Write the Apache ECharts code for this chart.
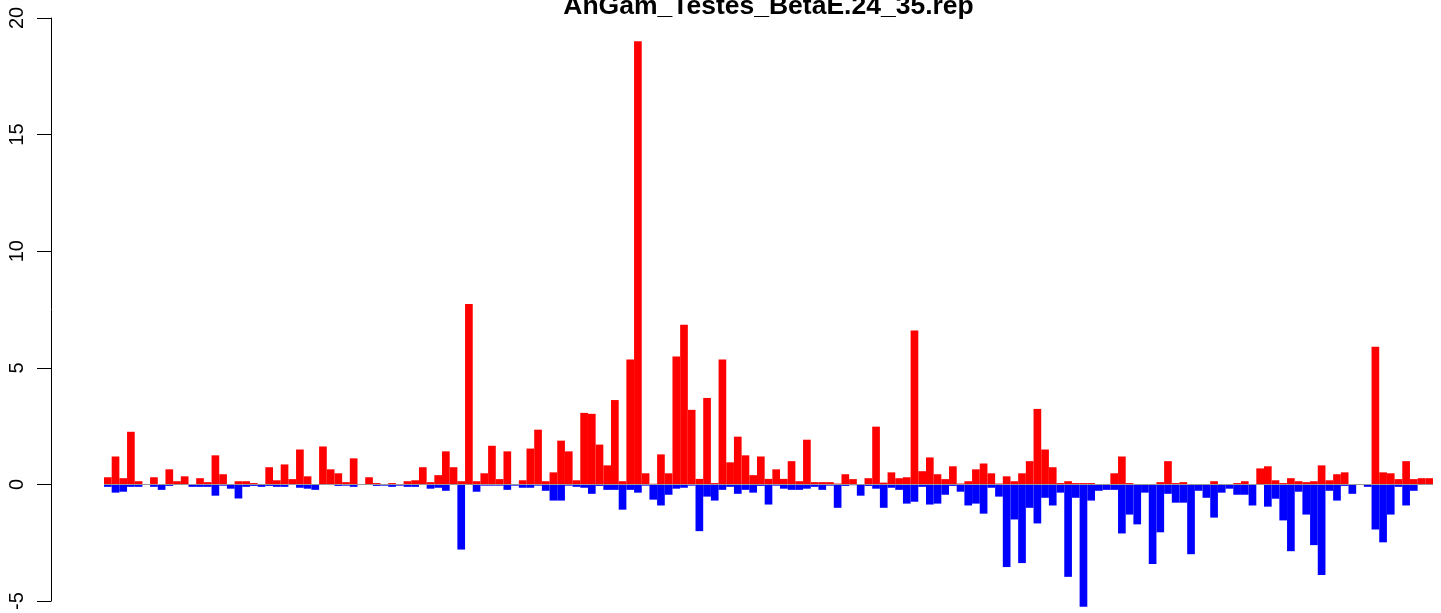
<!DOCTYPE html>
<html>
<head>
<meta charset="utf-8">
<script src="https://cdn.jsdelivr.net/npm/echarts@6/dist/echarts.min.js"></script>
<style>
  html, body { margin: 0; padding: 0; background: #fff; }
  #chart { width: 1441px; height: 613px; }
</style>
</head>
<body>
<div id="chart"></div>
<script>
var chartTitle = 'AnGam_Testes_BetaE.24_35.rep';

// positive part of each bar (red)
var redValues = [
    0.31, 1.2, 0.27, 2.26, 0.14, 0, 0.31, 0.02, 0.65, 0.14,
    0.35, 0.02, 0.27, 0.1, 1.25, 0.44, 0.02, 0.14, 0.14, 0.06,
    0.02, 0.74, 0.18, 0.86, 0.23, 1.5, 0.35, 0.02, 1.63, 0.65,
    0.48, 0.1, 1.12, 0, 0.31, 0.06, 0.02, 0.06, 0.02, 0.14,
    0.18, 0.74, 0.1, 0.4, 1.42, 0.74, 0.14, 7.74, 0.14, 0.48,
    1.66, 0.23, 1.42, 0, 0.18, 1.54, 2.35, 0.14, 0.52, 1.88,
    1.42, 0.18, 3.07, 3.03, 1.71, 0.82, 3.62, 0.14, 5.36, 19.0,
    0.48, 0.03, 1.29, 0.48, 5.49, 6.85, 3.2, 0.24, 3.71, 0.06,
    5.36, 0.95, 2.05, 1.25, 0.4, 1.2, 0.24, 0.65, 0.24, 1.0,
    0.14, 1.92, 0.1, 0.1, 0.1, 0.04, 0.44, 0.23, 0, 0.27,
    2.48, 0.08, 0.52, 0.27, 0.31, 6.6, 0.57, 1.16, 0.44, 0.23,
    0.78, 0.04, 0.14, 0.65, 0.9, 0.48, 0.04, 0.35, 0.14, 0.48,
    1.0, 3.24, 1.5, 0.74, 0.06, 0.14, 0.06, 0.06, 0.06, 0,
    0.02, 0.48, 1.2, 0.06, 0.02, 0, 0, 0.1, 1.0, 0.06,
    0.1, 0, 0, 0, 0.14, 0.02, 0, 0.06, 0.14, 0,
    0.69, 0.78, 0.18, 0.06, 0.27, 0.14, 0.1, 0.14, 0.82, 0.18,
    0.44, 0.52, 0, 0, 0, 5.9, 0.52, 0.48, 0.23, 1.0,
    0.23, 0.27, 0.27
];

// negative part of each bar (blue)
var blueValues = [
    -0.1, -0.35, -0.31, -0.1, -0.1, 0, -0.1, -0.23, -0.06, 0,
    0, -0.1, -0.1, -0.1, -0.48, -0.05, -0.18, -0.6, -0.1, -0.06,
    -0.1, -0.06, -0.1, -0.1, -0.02, -0.14, -0.18, -0.23, -0.02, 0,
    -0.06, -0.05, -0.1, 0, 0, -0.06, -0.05, -0.1, -0.05, -0.1,
    -0.1, -0.02, -0.18, -0.14, -0.27, -0.02, -2.79, -0.02, -0.31, -0.05,
    -0.05, -0.05, -0.23, -0.05, -0.14, -0.14, -0.05, -0.27, -0.69, -0.69,
    -0.05, -0.1, -0.14, -0.4, -0.06, -0.23, -0.23, -1.08, -0.23, -0.35,
    -0.05, -0.65, -0.9, -0.44, -0.18, -0.14, -0.05, -2.0, -0.52, -0.69,
    -0.23, -0.1, -0.4, -0.23, -0.35, -0.06, -0.86, -0.05, -0.18, -0.23,
    -0.23, -0.18, -0.1, -0.23, -0.05, -1.0, -0.06, -0.03, -0.48, -0.06,
    -0.18, -1.0, -0.14, -0.23, -0.82, -0.74, -0.1, -0.86, -0.82, -0.44,
    -0.06, -0.31, -0.9, -0.82, -1.25, -0.14, -0.52, -3.54, -1.5, -3.37,
    -1.0, -1.67, -0.57, -0.9, -0.35, -3.96, -0.57, -5.24, -0.69, -0.27,
    -0.23, -0.23, -2.1, -1.29, -1.71, -0.35, -3.41, -2.05, -0.4, -0.78,
    -0.78, -2.99, -0.27, -0.57, -1.42, -0.35, -0.18, -0.44, -0.44, -0.9,
    0, -0.95, -0.61, -1.54, -2.86, -0.31, -1.29, -2.6, -3.88, -0.27,
    -0.69, -0.06, -0.4, 0, -0.1, -1.93, -2.48, -1.29, -0.1, -0.9,
    -0.27, 0, 0
];

var categories = redValues.map(function (v, i) { return String(i + 1); });

var yMin = -5, yMax = 20, yStep = 5;

var chart = echarts.init(document.getElementById('chart'));

var option = {
    animation: false,
    backgroundColor: '#ffffff',
    textStyle: { fontFamily: 'Liberation Sans, Arial, sans-serif' },
    grid: { left: 104, right: 8, top: 18, bottom: 6, containLabel: false },
    graphic: [{
        type: 'text',
        x: 768.5,
        y: 7,
        style: {
            text: chartTitle,
            textAlign: 'center',
            textVerticalAlign: 'middle',
            font: 'bold 26.5px "Liberation Sans", Arial, sans-serif',
            fill: '#000'
        }
    }],
    xAxis: {
        type: 'category',
        data: categories,
        show: false,
        boundaryGap: true
    },
    yAxis: {
        type: 'value',
        min: yMin,
        max: yMax,
        interval: yStep,
        offset: 53,
        splitLine: { show: false },
        axisLine: { show: true, lineStyle: { color: '#000', width: 1 } },
        axisTick: { show: true, length: 14, lineStyle: { color: '#000', width: 1 } },
        axisLabel: {
            rotate: 90,
            margin: 24,
            color: '#000',
            fontSize: 20,
            fontFamily: 'Liberation Sans, Arial, sans-serif'
        }
    },
    series: [
        {
            type: 'line',
            data: [],
            z: 1,
            markLine: {
                silent: true,
                symbol: 'none',
                label: { show: false },
                lineStyle: { color: '#999', type: 'solid', width: 1 },
                data: [{ yAxis: 0 }]
            }
        },
        {
            name: 'neg',
            type: 'bar',
            data: blueValues,
            barWidth: '100%',
            barGap: '-100%',
            clip: false,
            z: 2,
            itemStyle: { color: '#0000ff' }
        },
        {
            name: 'pos',
            type: 'bar',
            data: redValues,
            barWidth: '100%',
            barGap: '-100%',
            clip: false,
            z: 3,
            itemStyle: { color: '#ff0000' }
        }
    ]
};

chart.setOption(option);
</script>
</body>
</html>
